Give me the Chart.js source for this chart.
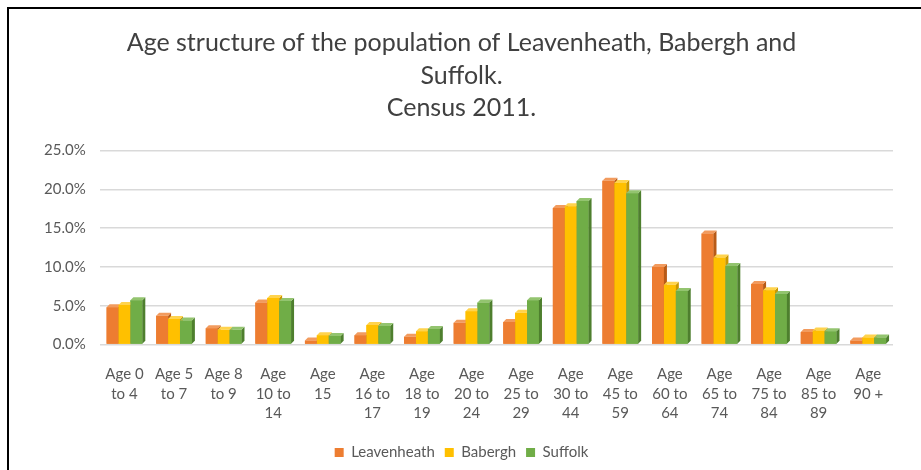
<!DOCTYPE html>
<html>
<head>
<meta charset="utf-8">
<script src="https://cdn.jsdelivr.net/npm/chart.js@4.4.1/dist/chart.umd.min.js"></script>
<style>
  body { margin: 0; background: #fff; }
  #wrap { position: relative; width: 921px; height: 470px; }
  #frame { position: absolute; left: 7px; top: 7px; right: -5px; bottom: -5px;
           border-left: 2px solid #000; border-top: 2px solid #000; pointer-events: none; }
</style>
</head>
<body>
<div id="wrap">
  <canvas id="ageChart" width="921" height="470"></canvas>
  <div id="frame"></div>
</div>
<script>
var ageLabels = [
    ['Age 0', 'to 4'], ['Age 5', 'to 7'], ['Age 8', 'to 9'], ['Age', '10 to', '14'],
    ['Age', '15'], ['Age', '16 to', '17'], ['Age', '18 to', '19'], ['Age', '20 to', '24'],
    ['Age', '25 to', '29'], ['Age', '30 to', '44'], ['Age', '45 to', '59'], ['Age', '60 to', '64'],
    ['Age', '65 to', '74'], ['Age', '75 to', '84'], ['Age', '85 to', '89'], ['Age', '90 +']
];

// percentages of the population
var leavenheath = [4.8, 3.7, 2.1, 5.4, 0.5, 1.2, 1.0, 2.8, 2.9, 17.6, 21.1, 10.0, 14.3, 7.8, 1.6, 0.5];
var babergh     = [5.1, 3.3, 1.9, 6.0, 1.2, 2.5, 1.7, 4.3, 4.1, 17.8, 20.8, 7.7, 11.2, 7.0, 1.8, 0.9];
var suffolk     = [5.7, 3.1, 1.9, 5.6, 1.1, 2.4, 2.0, 5.4, 5.7, 18.5, 19.5, 6.9, 10.1, 6.5, 1.7, 0.9];

var titleLines = ['Age structure of the population of Leavenheath, Babergh and', 'Suffolk.', 'Census 2011.'];

// simple fake 3D: repaint each bar front in dataset order, then its top face and darker right side
var bar3d = {
    id: 'bar3d',
    afterDatasetsDraw: function (chart) {
        var ctx = chart.ctx;
        var d = 3;
        chart.data.datasets.forEach(function (ds, i) {
            var meta = chart.getDatasetMeta(i);
            meta.data.forEach(function (bar) {
                var p = bar.getProps(['x', 'y', 'base', 'width'], true);
                var l = p.x - p.width / 2, r = p.x + p.width / 2;
                ctx.save();
                ctx.fillStyle = ds.backgroundColor;
                ctx.fillRect(l, p.y, p.width, p.base - p.y);
                ctx.fillStyle = ds.sideColor;
                ctx.beginPath();
                ctx.moveTo(r, p.y);
                ctx.lineTo(r + d, p.y - d);
                ctx.lineTo(r + d, p.base - d);
                ctx.lineTo(r, p.base);
                ctx.closePath();
                ctx.fill();
                ctx.fillStyle = ds.topColor;
                ctx.beginPath();
                ctx.moveTo(l, p.y);
                ctx.lineTo(l + d, p.y - d);
                ctx.lineTo(r + d, p.y - d);
                ctx.lineTo(r, p.y);
                ctx.closePath();
                ctx.fill();
                ctx.restore();
            });
        });
    }
};

var ctx = document.getElementById('ageChart').getContext('2d');

var ageChart = new Chart(ctx, {
    type: 'bar',
    data: {
        labels: ageLabels,
        datasets: [
            {
                label: 'Leavenheath',
                data: leavenheath,
                backgroundColor: '#ED7D31',
                sideColor: '#B85A17',
                topColor: '#F29B5E'
            },
            {
                label: 'Babergh',
                data: babergh,
                backgroundColor: '#FFC000',
                sideColor: '#C99700',
                topColor: '#FFD34D'
            },
            {
                label: 'Suffolk',
                data: suffolk,
                backgroundColor: '#70AD47',
                sideColor: '#4E7F2E',
                topColor: '#93C46F'
            }
        ]
    },
    options: {
        responsive: false,
        animation: false,
        layout: { padding: { left: 30, right: 28, top: 11, bottom: 0 } },
        datasets: {
            bar: { categoryPercentage: 0.72, barPercentage: 1.0 }
        },
        scales: {
            x: {
                grid: { display: false },
                border: { display: false },
                ticks: {
                    maxRotation: 0,
                    autoSkip: false,
                    color: '#595959',
                    font: { family: 'Lato', size: 15, lineHeight: 1.3 },
                    padding: 12
                }
            },
            y: {
                min: 0,
                max: 25,
                border: { display: false },
                grid: { color: '#D9D9D9', lineWidth: 1.5, drawTicks: false },
                ticks: {
                    stepSize: 5,
                    color: '#595959',
                    font: { family: 'Lato', size: 15 },
                    padding: 14,
                    callback: function (v) { return v.toFixed(1) + '%'; }
                }
            }
        },
        plugins: {
            title: {
                display: true,
                text: titleLines,
                color: '#404040',
                font: { family: 'Lato', size: 25, weight: 'normal', lineHeight: 1.3 },
                padding: { top: 16, bottom: 26 }
            },
            legend: {
                display: true,
                position: 'bottom',
                labels: {
                    boxWidth: 9,
                    boxHeight: 9,
                    color: '#595959',
                    font: { family: 'Lato', size: 15 },
                    padding: 10
                }
            },
            tooltip: { enabled: false }
        }
    },
    plugins: [bar3d]
});
</script>
</body>
</html>
